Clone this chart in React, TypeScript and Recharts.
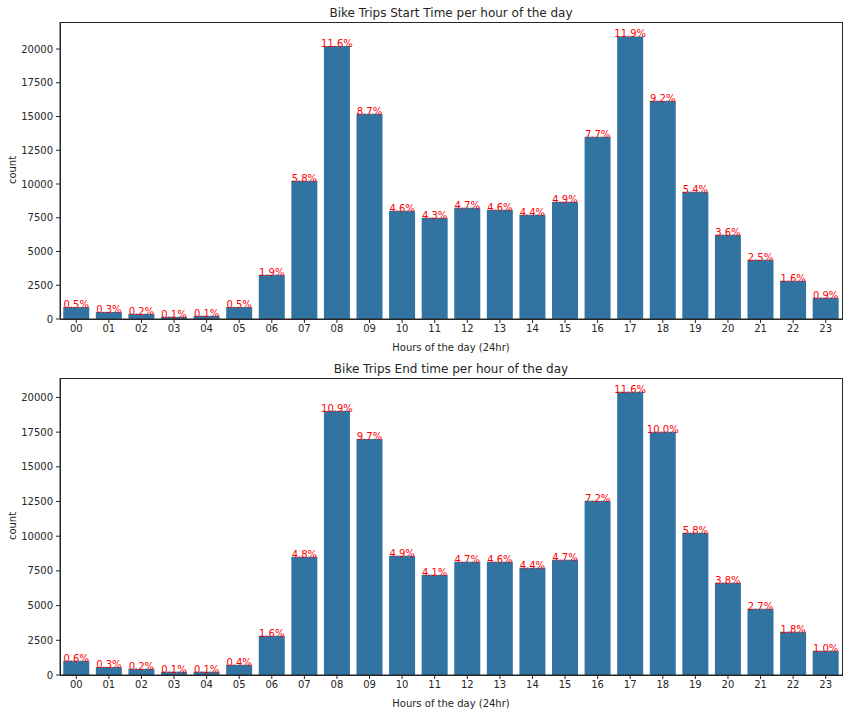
import { BarChart, Bar, XAxis, YAxis, LabelList } from 'recharts'

const hours = ['00', '01', '02', '03', '04', '05', '06', '07', '08', '09', '10', '11', '12', '13', '14', '15', '16', '17', '18', '19', '20', '21', '22', '23']

const startCounts = [890, 520, 390, 170, 240, 890, 3280, 10240, 20220, 15200, 8020, 7500, 8240, 8100, 7730, 8690, 13500, 20930, 16170, 9430, 6240, 4390, 2840, 1580]
const startPct = ['0.5%', '0.3%', '0.2%', '0.1%', '0.1%', '0.5%', '1.9%', '5.8%', '11.6%', '8.7%', '4.6%', '4.3%', '4.7%', '4.6%', '4.4%', '4.9%', '7.7%', '11.9%', '9.2%', '5.4%', '3.6%', '2.5%', '1.6%', '0.9%']

const endCounts = [1030, 580, 450, 240, 240, 740, 2830, 8520, 19040, 17000, 8600, 7230, 8160, 8160, 7730, 8310, 12560, 20410, 17530, 10250, 6650, 4780, 3120, 1750]
const endPct = ['0.6%', '0.3%', '0.2%', '0.1%', '0.1%', '0.4%', '1.6%', '4.8%', '10.9%', '9.7%', '4.9%', '4.1%', '4.7%', '4.6%', '4.4%', '4.7%', '7.2%', '11.6%', '10.0%', '5.8%', '3.8%', '2.7%', '1.8%', '1.0%']

const yTicks = [0, 2500, 5000, 7500, 10000, 12500, 15000, 17500, 20000]

const FONT = '"DejaVu Sans", sans-serif'
const INK = '#262626'
const BAR = '#3274a1'

function HourChart({ title, counts, pct, yMax }: { title: string; counts: number[]; pct: string[]; yMax: number }) {
  const data = hours.map((h, i) => ({ hour: h, count: counts[i], pct: pct[i] }))
  const tick = { fontSize: 10, fill: INK, fontFamily: FONT }
  return (
    <div style={{ position: 'relative', width: 851, height: 356 }}>
      <div
        style={{
          position: 'absolute', left: 60, width: 782, top: 6, textAlign: 'center',
          fontSize: 12, fontFamily: FONT, color: INK, lineHeight: '14px',
        }}
      >
        {title}
      </div>
      <div
        style={{
          position: 'absolute', left: 12, top: 170, transform: 'translate(-50%, -50%) rotate(-90deg)',
          fontSize: 10, fontFamily: FONT, color: INK, whiteSpace: 'nowrap',
        }}
      >
        count
      </div>
      <BarChart
        width={851}
        height={356}
        data={data}
        margin={{ top: 22, right: 9, left: 0, bottom: 0 }}
        barCategoryGap="10%"
      >
        <XAxis
          dataKey="hour"
          height={37}
          tick={tick}
          tickSize={4}
          tickMargin={2}
          stroke={INK}
          tickLine={{ stroke: INK }}
          axisLine={{ stroke: INK }}
          interval={0}
          label={{ value: 'Hours of the day (24hr)', position: 'insideBottom', offset: 5, fontSize: 10, fill: INK, fontFamily: FONT }}
        />
        <YAxis
          width={60}
          domain={[0, yMax]}
          ticks={yTicks}
          allowDataOverflow
          tick={tick}
          tickSize={4}
          tickMargin={3}
          tickLine={{ stroke: INK }}
          axisLine={{ stroke: INK }}
        />
        <Bar dataKey="count" fill={BAR} isAnimationActive={false}>
          <LabelList dataKey="pct" position="top" offset={-1} fill="#ff0000" fontSize={10} fontFamily={FONT} />
        </Bar>
      </BarChart>
      {/* axes frame (top/right spines) */}
      <div
        style={{
          position: 'absolute', left: 59.5, top: 21.5, width: 783, height: 298,
          border: `1px solid ${INK}`, boxSizing: 'border-box', pointerEvents: 'none',
        }}
      />
    </div>
  )
}

export default function App() {
  return (
    <div style={{ position: 'absolute', left: 0, top: 0, width: 851, height: 713, background: '#fff' }}>
      <HourChart title="Bike Trips Start Time per hour of the day" counts={startCounts} pct={startPct} yMax={22000} />
      <HourChart title="Bike Trips End time per hour of the day" counts={endCounts} pct={endPct} yMax={21400} />
    </div>
  )
}
